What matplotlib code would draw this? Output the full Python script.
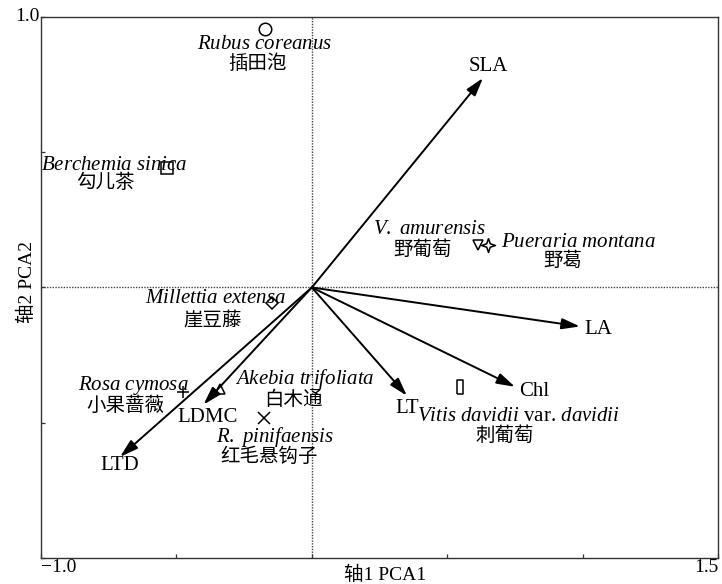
import matplotlib
matplotlib.use("Agg")
import matplotlib.pyplot as plt
import numpy as np

plt.rcParams['font.family'] = ['Liberation Serif', 'Noto Sans CJK SC']
plt.rcParams['mathtext.fontset'] = 'custom'
plt.rcParams['mathtext.rm'] = 'Liberation Serif'
plt.rcParams['mathtext.it'] = 'Liberation Serif:italic'

# trait loadings (arrows)
traits = ["SLA", "LA", "Chl", "LT", "LDMC", "LTD"]
trait_x = [0.632, 0.990, 0.750, 0.351, -0.400, -0.708]
trait_y = [0.774, -0.144, -0.367, -0.400, -0.433, -0.626]

# species scores
species_latin = [r"$\mathit{Rubus\ coreanus}$", r"$\mathit{Berchemia\ sinica}$",
                 r"$\mathit{V.\ amurensis}$", r"$\mathit{Pueraria\ montana}$",
                 r"$\mathit{Millettia\ extensa}$", r"$\mathit{Rosa\ cymosa}$",
                 r"$\mathit{Akebia\ trifoliata}$", r"$\mathit{R.\ pinifaensis}$",
                 r"$\mathit{Vitis\ davidii}$ var. $\mathit{davidii}$"]
species_cn = ["插田泡", "勾儿茶", "野葡萄", "野葛", "崖豆藤", "小果蔷薇", "白木通", "红毛悬钩子", "刺葡萄"]
species_x = [-0.172, -0.534, 0.614, 0.651, -0.146, -0.476, -0.339, -0.176, 0.548]
species_y = [0.956, 0.441, 0.156, 0.156, -0.059, -0.385, -0.374, -0.481, -0.367]

rect = [(-0.5, -1), (0.5, -1), (0.5, 1), (-0.5, 1), (-0.5, -1)]
star4 = [(0, 1), (0.25, 0.25), (1, 0), (0.25, -0.25), (0, -1), (-0.25, -0.25), (-1, 0), (-0.25, 0.25), (0, 1)]
markers = ["o", "s", "v", star4, "D", "+", "^", "x", rect]
msizes = [9, 9, 7, 10, 6, 9, 7, 9, 10]

# label offsets in pixels (latin, chinese)
latin_off = [(-1, -16), (-53, 3), (-48, 16), (90, 3), (-57, 5), (-50, 6), (85, 10), (11, -19), (58, -30)]
cn_off = [(-8, -35), (-62, -15), (-56, -4), (75, -16), (-60, -17), (-58, -14), (73, -11), (5, -39), (44, -49)]
trait_off = [(5, 12), (18, -3), (19, -5), (0, -13), (4, -13), (0, -9)]

fig = plt.figure(figsize=(7.22, 5.84), dpi=100)
ax = fig.add_axes([0.0568, 0.0445, 0.9377, 0.9265])
ax.set_xlim(-1.0, 1.5)
ax.set_ylim(-1.0, 1.0)

ax.axvline(0, color="#444444", lw=1.0, ls=(0, (1, 1)), zorder=1)
ax.axhline(0, color="#444444", lw=1.0, ls=(0, (1, 1)), zorder=1)

for name, tx, ty, off in zip(traits, trait_x, trait_y, trait_off):
    ax.annotate("", xy=(tx, ty), xytext=(0, 0),
                arrowprops=dict(arrowstyle="-|>,head_length=1.0,head_width=0.3",
                                color="black", lw=1.4, shrinkA=0, shrinkB=0,
                                mutation_scale=11))
    ax.annotate(name, xy=(tx, ty), xytext=off, textcoords="offset pixels",
                ha="center", va="center", fontsize=15)

for i in range(len(species_x)):
    ax.plot(species_x[i], species_y[i], marker=markers[i], ms=msizes[i],
            mfc="none", mec="black", mew=1.1, ls="none", zorder=3)
    ax.annotate(species_latin[i], xy=(species_x[i], species_y[i]), xytext=latin_off[i],
                textcoords="offset pixels", ha="center", va="center", fontsize=15)
    ax.annotate(species_cn[i], xy=(species_x[i], species_y[i]), xytext=cn_off[i],
                textcoords="offset pixels", ha="center", va="center", fontsize=14)

ax.set_xticks([-1.0, -0.5, 0, 0.5, 1.0, 1.5])
ax.set_xticklabels(["\u22121.0", "", "", "", "", "1.5"])
ax.set_yticks([-1.0, -0.5, 0, 0.5, 1.0])
ax.set_yticklabels(["", "", "", "", "1.0"])
ax.tick_params(direction="in", length=3, width=0.9, labelsize=14, pad=1, color="#333333")
xl = ax.get_xticklabels()
xl[0].set_horizontalalignment("left")
xl[-1].set_horizontalalignment("right")
ax.get_yticklabels()[-1].set_verticalalignment("center")

for s in ax.spines.values():
    s.set_linewidth(1.0)
    s.set_color("#333333")

ax.set_xlabel("轴1 PCA1", fontsize=14, va="top")
ax.xaxis.set_label_coords(0.508, -0.014)
ax.set_ylabel("轴2 PCA2", fontsize=14, va="center")
ax.yaxis.set_label_coords(-0.021, 0.51)

fig.savefig("out.png", dpi=100)
